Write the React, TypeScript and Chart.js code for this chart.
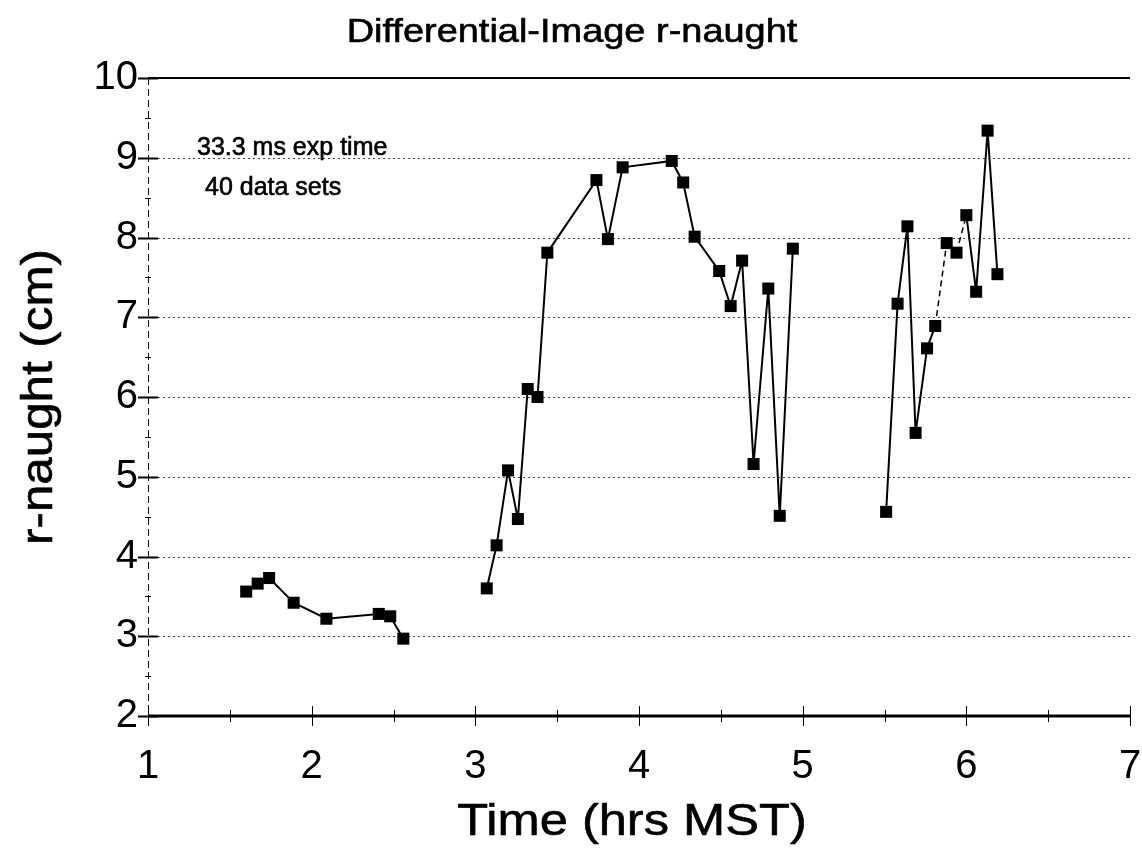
import React, { useEffect, useRef } from "react";
import { Chart, registerables } from "chart.js";

Chart.register(...registerables);

const titleText = "Differential-Image r-naught";
const xTitle = "Time (hrs MST)";
const yTitle = "r-naught (cm)";
const notes = ["33.3 ms exp time", "40 data sets"];

const xTicks = [1, 2, 3, 4, 5, 6, 7];
const yTicks = [2, 3, 4, 5, 6, 7, 8, 9, 10];

const timesA = [1.6, 1.67, 1.74, 1.89, 2.09, 2.41, 2.48, 2.56];
const rA = [3.56, 3.66, 3.73, 3.42, 3.22, 3.28, 3.25, 2.97];

const timesB = [3.07, 3.13, 3.2, 3.26, 3.32, 3.38, 3.44, 3.74, 3.81, 3.9, 4.2, 4.27, 4.34, 4.49, 4.56, 4.63, 4.7, 4.79, 4.86, 4.94];
const rB = [3.6, 4.14, 5.08, 4.47, 6.1, 6.0, 7.81, 8.72, 7.98, 8.88, 8.96, 8.69, 8.01, 7.58, 7.14, 7.71, 5.16, 7.36, 4.51, 7.86];

const timesC = [5.51, 5.58, 5.64, 5.69, 5.76, 5.81, 5.88, 5.94, 6.0, 6.06, 6.13, 6.19];
const rC = [4.56, 7.17, 8.14, 5.55, 6.61, 6.89, 7.93, 7.81, 8.28, 7.32, 9.34, 7.54];

const FONT = "'Liberation Sans', Arial, sans-serif";

function pts(xs: number[], ys: number[]) {
  return xs.map((x, i) => ({ x, y: ys[i] }));
}

function stretchedText(ctx: CanvasRenderingContext2D, text: string, x: number, y: number, size: number, sx: number, align: CanvasTextAlign, rotate = false, weight = 0.6) {
  ctx.save();
  ctx.translate(x, y);
  if (rotate) ctx.rotate(-Math.PI / 2);
  ctx.scale(sx, 1);
  ctx.font = `${size}px ${FONT}`;
  ctx.fillStyle = "#000";
  ctx.strokeStyle = "#000";
  ctx.lineWidth = weight;
  ctx.textAlign = align;
  ctx.textBaseline = "middle";
  ctx.fillText(text, 0, 0);
  if (weight > 0) ctx.strokeText(text, 0, 0);
  ctx.restore();
}

const framePlugin = {
  id: "frame",
  beforeDatasetsDraw(chart: any) {
    const { ctx, chartArea, scales } = chart;
    const xs = scales.x;
    const ys = scales.y;
    const left = chartArea.left;
    const right = chartArea.right;
    ctx.save();
    // dotted grid lines
    ctx.strokeStyle = "#444";
    ctx.lineWidth = 1;
    ctx.setLineDash([2, 3]);
    for (const v of yTicks) {
      if (v === yTicks[0] || v === yTicks[yTicks.length - 1]) continue;
      const py = Math.round(ys.getPixelForValue(v)) + 0.5;
      ctx.beginPath();
      ctx.moveTo(left, py);
      ctx.lineTo(right, py);
      ctx.stroke();
    }
    // left axis dashed
    ctx.setLineDash([7, 4]);
    ctx.strokeStyle = "#111";
    ctx.lineWidth = 1;
    ctx.beginPath();
    ctx.moveTo(left + 0.5, ys.getPixelForValue(10));
    ctx.lineTo(left + 0.5, ys.getPixelForValue(2));
    ctx.stroke();
    ctx.setLineDash([]);
    // top line
    ctx.strokeStyle = "#000";
    ctx.lineWidth = 2;
    ctx.beginPath();
    ctx.moveTo(left, ys.getPixelForValue(10));
    ctx.lineTo(right, ys.getPixelForValue(10));
    ctx.stroke();
    // bottom axis
    ctx.lineWidth = 3;
    ctx.beginPath();
    ctx.moveTo(left, ys.getPixelForValue(2));
    ctx.lineTo(right, ys.getPixelForValue(2));
    ctx.stroke();
    // x ticks
    const by = ys.getPixelForValue(2);
    ctx.lineWidth = 1;
    for (let v = xTicks[0]; v <= xTicks[xTicks.length - 1] + 1e-9; v += 0.5) {
      const px = Math.round(xs.getPixelForValue(v)) + 0.5;
      const major = Math.abs(v - Math.round(v)) < 1e-6;
      const h = major ? 10 : 6;
      ctx.beginPath();
      ctx.moveTo(px, by - h);
      ctx.lineTo(px, by + h);
      ctx.stroke();
    }
    // y ticks
    for (let v = yTicks[0]; v <= yTicks[yTicks.length - 1] + 1e-9; v += 0.5) {
      const py = Math.round(ys.getPixelForValue(v)) + 0.5;
      const major = Math.abs(v - Math.round(v)) < 1e-6;
      const h = major ? 10 : 3;
      ctx.lineWidth = major ? 2 : 1;
      ctx.beginPath();
      ctx.moveTo(left - h, py);
      ctx.lineTo(left + h, py);
      ctx.stroke();
    }
    ctx.restore();
  },
  afterDraw(chart: any) {
    const { ctx, chartArea } = chart;
    stretchedText(ctx, titleText, 572, 33, 33, 1.15, "center");
    stretchedText(ctx, notes[0], 197, 148, 25, 1.0, "left");
    stretchedText(ctx, notes[1], 205, 188, 25, 1.0, "left");
    stretchedText(ctx, xTitle, 632, 823, 44, 1.15, "center");
    stretchedText(ctx, yTitle, 40, (chartArea.top + chartArea.bottom) / 2, 44, 1.12, "center", true);
  },
};

export default function App() {
  const ref = useRef<HTMLCanvasElement | null>(null);
  useEffect(() => {
    if (!ref.current) return;
    const dsStyle = {
      borderColor: "#000",
      backgroundColor: "#000",
      borderWidth: 2,
      pointStyle: "rect",
      pointRadius: 8.5,
      pointBorderWidth: 0,
      pointBackgroundColor: "#000",
      tension: 0,
      showLine: true,
      fill: false,
    };
    const chart = new Chart(ref.current, {
      type: "line",
      data: {
        datasets: [
          { ...dsStyle, label: "A", data: pts(timesA, rA) },
          { ...dsStyle, label: "B", data: pts(timesB, rB) },
          {
            ...dsStyle,
            label: "C",
            data: pts(timesC, rC),
            segment: {
              borderDash: (c: any) => (c.p0DataIndex === 5 || c.p0DataIndex === 7 ? [6, 4] : undefined),
              borderWidth: (c: any) => (c.p0DataIndex === 5 || c.p0DataIndex === 7 ? 1.5 : undefined),
            },
          },
        ],
      },
      options: {
        animation: false,
        responsive: false,
        maintainAspectRatio: false,
        layout: { padding: { top: 78, right: 12, left: 0, bottom: 0 } },
        plugins: {
          legend: { display: false },
          tooltip: { enabled: false },
          title: { display: false },
        },
        scales: {
          x: {
            type: "linear",
            min: 1,
            max: 7,
            afterBuildTicks: (s: any) => {
              s.ticks = xTicks.map((v) => ({ value: v }));
            },
            afterFit: (s: any) => {
              s.height = 134;
              s.paddingLeft = 0;
              s.paddingRight = 0;
            },
            grid: { display: false, drawTicks: false },
            border: { display: false },
            ticks: {
              color: "#000",
              font: { family: FONT, size: 40 },
              padding: 27,
              maxRotation: 0,
            },
          },
          y: {
            type: "linear",
            min: 2,
            max: 10,
            afterBuildTicks: (s: any) => {
              s.ticks = yTicks.map((v) => ({ value: v }));
            },
            afterFit: (s: any) => {
              s.width = 148;
              s.paddingTop = 0;
              s.paddingBottom = 0;
            },
            grid: { display: false, drawTicks: false },
            border: { display: false },
            ticks: {
              color: "#000",
              font: { family: FONT, size: 40 },
              padding: 10,
            },
          },
        },
      },
      plugins: [framePlugin],
    } as any);
    return () => chart.destroy();
  }, []);
  return (
    <div style={{ position: "absolute", left: 0, top: 0, width: 1142, height: 850, background: "#fff" }}>
      <canvas ref={ref} width={1142} height={850} style={{ display: "block" }} />
    </div>
  );
}
